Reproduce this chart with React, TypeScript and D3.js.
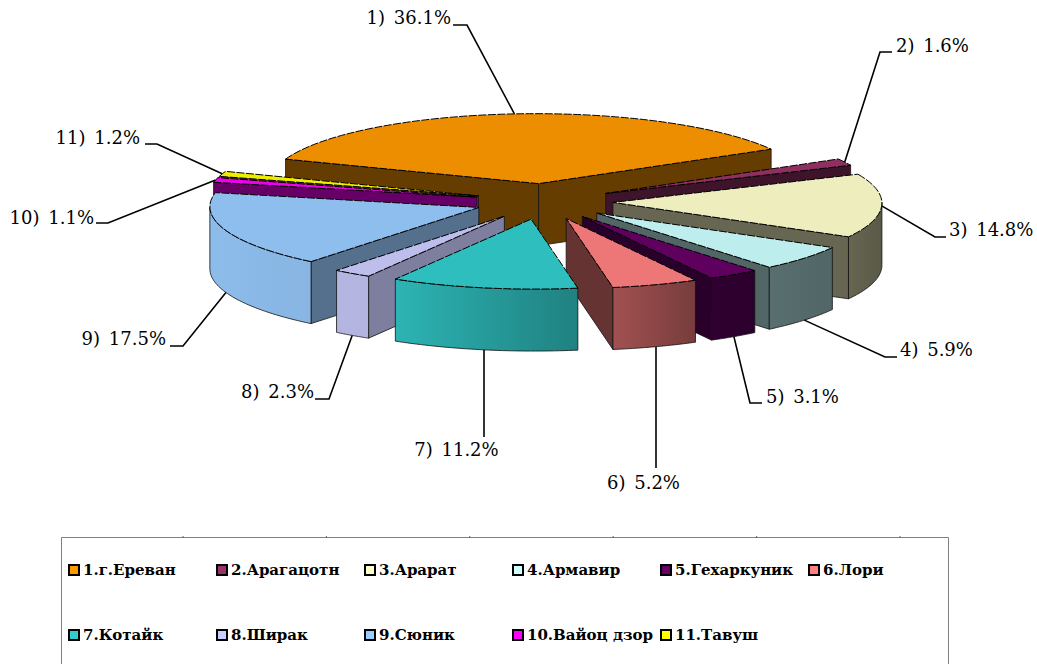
// @ts-nocheck
import React, { useEffect, useRef } from 'react';
import * as d3 from 'd3';

const regions = ['1.г.Ереван', '2.Арагацотн', '3.Арарат', '4.Армавир', '5.Гехаркуник', '6.Лори',
  '7.Котайк', '8.Ширак', '9.Сюник', '10.Вайоц дзор', '11.Тавуш'];
const shares = [36.1, 1.6, 14.8, 5.9, 3.1, 5.2, 11.2, 2.3, 17.5, 1.1, 1.2];
const colors = ['#FF9900', '#993366', '#FFFFCC', '#CCFFFF', '#660066', '#FF8080',
  '#33CCCC', '#CCCCFF', '#99CCFF', '#FF00FF', '#FFFF00'];

// label box: elbow x, elbow y, line end x, text x, text baseline, anchor
const labelLayout = [
  [467, 25, 453, 451, 24, 'end'],
  [880, 52, 892, 896, 52, 'start'],
  [935, 237, 946, 949, 236, 'start'],
  [885, 357, 897, 900, 356, 'start'],
  [750, 403, 762, 766, 403, 'start'],
  [656, 468, 656, 643.5, 489, 'middle'],
  [484, 437, 484, 456.5, 456, 'middle'],
  [329, 399, 315, 314, 398, 'end'],
  [183, 346, 170, 166, 345, 'end'],
  [108, 223, 96, 94, 224, 'end'],
  [157, 144, 145, 140, 144, 'end'],
];

const W = 1037;
const H = 664;
const R = 269;
const TILT = 0.26;
const SHEAR = 0.011;
const DEPTH = 62;
const EXPLODE = 69;
const CX = 544;
const CY = 201.5;

const deg = (d: number) => d * Math.PI / 180;
const norm = (a: number) => ((a * 180 / Math.PI) % 360 + 360) % 360;

// how bright the round side is, by angle from north
const sideShade = d3.scaleLinear().domain([120, 150, 170, 210, 280]).range([0.4, 0.45, 0.63, 0.88, 0.93]);
const wallShade = d3.scaleThreshold().domain([200, 215, 230]).range([0.4, 0.62, 0.55, 0.4]);

const shade = (c: string, k: number) => {
  const col = d3.rgb(c);
  return d3.rgb(col.r * k, col.g * k, col.b * k).formatHex();
};

export default function App() {
  const svgRef = useRef();

  useEffect(() => {
    const svg = d3.select(svgRef.current);
    svg.selectAll('*').remove();

    const pie = d3.pie().sort(null).startAngle(deg(-69.5)).endAngle(deg(290.5));
    const slices = pie(shares).map((s, i) => {
      const mid = (s.startAngle + s.endAngle) / 2;
      return {
        ...s, i, mid,
        ox: CX + Math.sin(mid) * EXPLODE,
        oy: CY - Math.cos(mid) * EXPLODE * TILT,
        back: Math.abs(((norm(mid) + 180) % 360) - 180),
      };
    });

    const rim = (s, a: number, h = 0) => [
      s.ox + Math.sin(a) * R - Math.cos(a) * R * SHEAR,
      s.oy - Math.cos(a) * R * TILT + h,
    ];
    const line = d3.line();
    const arc = d3.arc().innerRadius(0).outerRadius(R);
    const defs = svg.append('defs');

    const order = slices.slice().sort((a, b) => a.back - b.back);
    const pieG = svg.append('g');

    order.forEach(s => {
      const g = pieG.append('g');
      const color = colors[s.i];

      // flat walls from the apex to the rim, only those facing us
      const walls = [];
      if (Math.sin(s.startAngle) < 0) walls.push(s.startAngle);
      if (Math.sin(s.endAngle) > 0) walls.push(s.endAngle);
      walls.forEach(a => {
        const p = rim(s, a);
        g.append('path')
          .attr('d', line([[s.ox, s.oy], p, [p[0], p[1] + DEPTH], [s.ox, s.oy + DEPTH]]) + 'Z')
          .attr('fill', shade(color, wallShade(norm(a))))
          .attr('stroke', '#111')
          .attr('stroke-width', 0.8);
      });

      // round side, only the part facing us
      const a0 = Math.max(s.startAngle, deg(90));
      const a1 = Math.min(s.endAngle, deg(270));
      if (a1 > a0) {
        const steps = d3.range(0, 41).map(t => a0 + (a1 - a0) * t / 40);
        const top = steps.map(a => rim(s, a));
        const bottom = steps.slice().reverse().map(a => rim(s, a, DEPTH));
        const id = `side${s.i}`;
        const grad = defs.append('linearGradient').attr('id', id);
        grad.append('stop').attr('offset', 0).attr('stop-color', shade(color, sideShade(norm(a1))));
        grad.append('stop').attr('offset', 1).attr('stop-color', shade(color, sideShade(norm(a0))));
        g.append('path')
          .attr('d', line(top.concat(bottom)) + 'Z')
          .attr('fill', `url(#${id})`)
          .attr('stroke', '#111')
          .attr('stroke-width', 0.8);
      }

      g.append('path')
        .attr('d', arc(s))
        .attr('transform', `matrix(1,0,${SHEAR},${TILT},${s.ox},${s.oy})`)
        .attr('fill', shade(color, 0.93))
        .attr('stroke', '#000')
        .attr('stroke-width', 1)
        .attr('stroke-dasharray', '8 1.5')
        .attr('vector-effect', 'non-scaling-stroke');
    });

    // leader lines and percent labels
    const labels = svg.append('g');
    slices.forEach(s => {
      const [ex, ey, lx, tx, ty, anchor] = labelLayout[s.i];
      const front = Math.cos(s.mid) < -0.1;
      const start = rim(s, s.mid, front ? DEPTH : 0);
      if (lx === ex) start[0] = ex;
      labels.append('path')
        .attr('d', line([start, [ex, ey], [lx, ey]]))
        .attr('fill', 'none')
        .attr('stroke', '#000')
        .attr('stroke-width', 1.6);
      labels.append('text')
        .attr('x', tx)
        .attr('y', ty)
        .attr('text-anchor', anchor)
        .attr('font-family', '"DejaVu Serif"')
        .attr('font-size', 18)
        .attr('word-spacing', 3)
        .text(`${s.i + 1}) ${shares[s.i]}%`);
    });

    // legend
    const legend = svg.append('g');
    const tickX = d3.scaleLinear().domain([0, 1]).range([183, 326.4]);
    const colX = d3.scaleLinear().domain([0, 1]).range([68, 216]);
    const rowY = d3.scaleLinear().domain([0, 1]).range([565, 630]);

    legend.append('path')
      .attr('d', line([[61.5, H], [61.5, 537.5], [948.5, 537.5], [948.5, H]]))
      .attr('fill', 'none')
      .attr('stroke', '#808080')
      .attr('stroke-width', 1);

    d3.range(6).forEach(k => {
      legend.append('path')
        .attr('d', line([[tickX(k), 536], [tickX(k), 538]]))
        .attr('stroke', '#606060')
        .attr('stroke-width', 1);
    });

    regions.forEach((name, i) => {
      const col = i % 6;
      const row = Math.floor(i / 6);
      legend.append('rect')
        .attr('x', colX(col) + 1)
        .attr('y', rowY(row))
        .attr('width', 10)
        .attr('height', 10)
        .attr('fill', colors[i])
        .attr('stroke', '#000')
        .attr('stroke-width', 2);
      legend.append('text')
        .attr('x', colX(col) + 15)
        .attr('y', rowY(row) + 10)
        .attr('font-family', '"DejaVu Serif"')
        .attr('font-weight', 'bold')
        .attr('font-size', 15)
        .text(name);
    });
  }, []);

  return <svg ref={svgRef} width={W} height={H} style={{ position: 'absolute', left: 0, top: 0, display: 'block', background: '#fff' }} />;
}
